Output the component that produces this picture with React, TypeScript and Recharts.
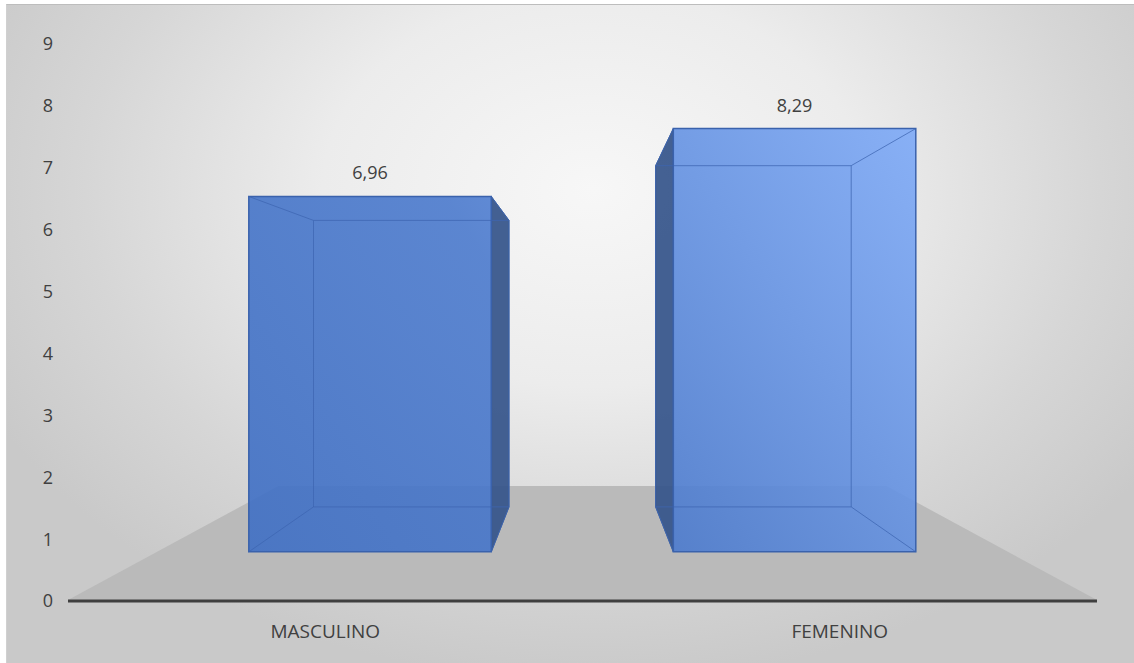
import React from 'react';
import { BarChart, Bar, XAxis, YAxis, LabelList } from 'recharts';

const categories = ['MASCULINO', 'FEMENINO'];
const values = [6.96, 8.29];
const yTicks = [0, 1, 2, 3, 4, 5, 6, 7, 8, 9];

const data = categories.map((name, i) => ({ name, value: values[i] }));

const W = 1134;
const H = 663;
const PLOT_LEFT = 68;
const PLOT_RIGHT = 1097;
const VX = (PLOT_LEFT + PLOT_RIGHT) / 2;
const VY = 320;
const S_FRONT = 0.825;
const S_BACK = 0.665;
const S_FLOOR = 0.591;
const FONT = '"Open Sans", "Liberation Sans", sans-serif';

const proj = (px: number, py: number, s: number): [number, number] => [VX + s * (px - VX), VY + s * (py - VY)];
const pts = (arr: [number, number][]) => arr.map((p) => `${p[0].toFixed(1)},${p[1].toFixed(1)}`).join(' ');

const Box3D = (props: any) => {
  const { x, y, width, height, index } = props;
  const bottom = y + height;
  const right = x + width;
  const fTL = proj(x, y, S_FRONT);
  const fTR = proj(right, y, S_FRONT);
  const fBR = proj(right, bottom, S_FRONT);
  const fBL = proj(x, bottom, S_FRONT);
  const bTL = proj(x, y, S_BACK);
  const bTR = proj(right, y, S_BACK);
  const bBR = proj(right, bottom, S_BACK);
  const bBL = proj(x, bottom, S_BACK);
  const leftOfCenter = x + width / 2 < VX;

  let floor = null;
  if (index === 0) {
    const fl = proj(PLOT_LEFT, bottom, S_FLOOR);
    const fr = proj(PLOT_RIGHT, bottom, S_FLOOR);
    floor = (
      <polygon
        points={pts([[PLOT_LEFT, bottom - 1], [PLOT_RIGHT, bottom - 1], fr, fl])}
        fill="#bababa"
      />
    );
  }

  const darkFace = leftOfCenter ? [fTR, bTR, bBR, fBR] : [fTL, bTL, bBL, fBL];
  const edge = '#3d66b2';
  return (
    <g>
      {floor}
      <polygon points={pts(darkFace as [number, number][])} fill="#34548a" fillOpacity={0.92} stroke="#3a5c98" strokeWidth={1} />
      <polygon points={pts([fTL, fTR, fBR, fBL])} fill="url(#barGrad)" fillOpacity={0.9} />
      <g stroke={edge} strokeOpacity={0.75} strokeWidth={1} fill="none">
        <polygon points={pts([bTL, bTR, bBR, bBL])} />
        <line x1={fTL[0]} y1={fTL[1]} x2={bTL[0]} y2={bTL[1]} />
        <line x1={fBL[0]} y1={fBL[1]} x2={bBL[0]} y2={bBL[1]} />
        <line x1={fTR[0]} y1={fTR[1]} x2={bTR[0]} y2={bTR[1]} />
        <line x1={fBR[0]} y1={fBR[1]} x2={bBR[0]} y2={bBR[1]} />
      </g>
      <polygon points={pts([fTL, fTR, fBR, fBL])} fill="none" stroke="#3a62ac" strokeWidth={1.5} />
    </g>
  );
};

const DataLabel = (props: any) => {
  const { x, y, width, value } = props;
  const [cx] = proj(x + width / 2, y, S_FRONT);
  const [, ty] = proj(x, y, S_FRONT);
  return (
    <text x={cx} y={ty - 17} textAnchor="middle" fill="#404040" fontSize={18} fontFamily={FONT}>
      {Number(value).toFixed(2).replace('.', ',')}
    </text>
  );
};

export default function App() {
  return (
    <div style={{ position: 'absolute', left: 0, top: 0, width: W, height: H, background: '#ffffff', overflow: 'hidden' }}>
      <div
        style={{
          position: 'absolute',
          left: 6,
          top: 4,
          width: W - 6,
          height: H - 4,
          borderTop: '1px solid #bdbdbd',
          borderLeft: '1px solid #d0d0d0',
          boxSizing: 'border-box',
          background: 'radial-gradient(ellipse 60% 75% at 52% 28%, #f7f7f7 0%, #ececec 40%, #d6d6d6 75%, #c9c9c9 100%)',
        }}
      />
      <div style={{ position: 'absolute', left: 0, top: 0 }}>
        <BarChart width={W} height={H} data={data} margin={{ top: 44, right: W - PLOT_RIGHT, bottom: 22, left: 8 }} barSize={294}>
          <defs>
            <linearGradient id="barGrad" gradientUnits="userSpaceOnUse" x1={250} y1={551} x2={915} y2={127}>
              <stop offset="0%" stopColor="#3f6fc4" />
              <stop offset="45%" stopColor="#4b7acd" />
              <stop offset="100%" stopColor="#7eaaf7" />
            </linearGradient>
          </defs>
          <XAxis
            dataKey="name"
            height={40}
            axisLine={{ stroke: '#3f3f3f', strokeWidth: 3 }}
            tickLine={false}
            tickSize={6}
            tickMargin={18}
            tick={{ fill: '#404040', fontSize: 19, fontFamily: FONT }}
          />
          <YAxis
            width={60}
            domain={[0, 9]}
            ticks={yTicks}
            axisLine={false}
            tickLine={false}
            tickSize={6}
            tickMargin={9}
            tick={{ fill: '#404040', fontSize: 18, fontFamily: FONT }}
          />
          <Bar dataKey="value" shape={<Box3D />} isAnimationActive={false}>
            <LabelList dataKey="value" content={<DataLabel />} />
          </Bar>
        </BarChart>
      </div>
    </div>
  );
}
